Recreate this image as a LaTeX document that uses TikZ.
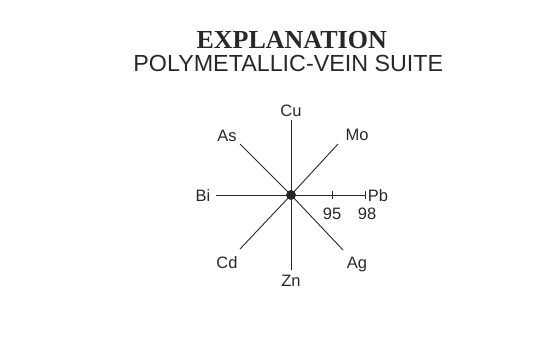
\documentclass[tikz,border=0pt]{standalone}
\usepackage{fontspec}
\setmainfont{Liberation Serif}
\newfontfamily\suitefont{Liberation Sans}
\usetikzlibrary{positioning}
\definecolor{ink}{RGB}{42,40,38}

\begin{document}
\begin{tikzpicture}[x=1pt,y=-1pt,ink,line width=0.9pt,
    elem/.style={font=\suitefont\fontsize{16.5}{18}\selectfont,anchor=base,inner sep=0pt}]
        \useasboundingbox (0,0) rectangle (541,337);

        % Heading
        \node[anchor=base,inner sep=0pt,font=\bfseries\fontsize{26}{30}\selectfont] (title) at (291.7,48.3) {EXPLANATION};
        \node[anchor=base,inner sep=0pt,font=\suitefont\fontsize{23.3}{28}\selectfont] (suite) at (288.3,71.7) {POLYMETALLIC-VEIN SUITE};

        % Centre and ray ends
        \coordinate (c) at (291,195);
        \coordinate (ecu) at (291,120);
        \coordinate (ezn) at (291,270);
        \coordinate (ebi) at (216,195);
        \coordinate (epb) at (365.5,195);
        \coordinate (emo) at (338,144);
        \coordinate (eas) at (240,144);
        \coordinate (ecd) at (240,249);
        \coordinate (eag) at (343,250);
        \coordinate (t95) at (332,195);

        % Rays
        \draw (c) -- (ecu);
        \draw (c) -- (ezn);
        \draw (c) -- (ebi);
        \draw (c) -- (epb);
        \draw (c) -- (emo);
        \draw (c) -- (eas);
        \draw (c) -- (ecd);
        \draw (c) -- (eag);

        % Ticks on the Pb ray
        \draw ([yshift=4pt]t95) -- ([yshift=-4pt]t95);
        \draw ([yshift=4pt]epb) -- ([yshift=-4pt]epb);

        % Centre dot
        \fill (c) circle (5);

        % Element labels
        \node[elem] (cu) at (291,117) {Cu};
        \node[elem] (mo) at (357,140) {Mo};
        \node[elem] (as) at (227,141) {As};
        \node[elem] (bi) at (203,201) {Bi};
        \node[elem,anchor=base west] (pb) at (367.5,201) {Pb};
        \node[elem] (n95) at (332,219) {95};
        \node[elem] (n98) at (367,219) {98};
        \node[elem] (cd) at (227,268) {Cd};
        \node[elem] (ag) at (357,268) {Ag};
        \node[elem] (zn) at (291,286.5) {Zn};
\end{tikzpicture}
\end{document}
